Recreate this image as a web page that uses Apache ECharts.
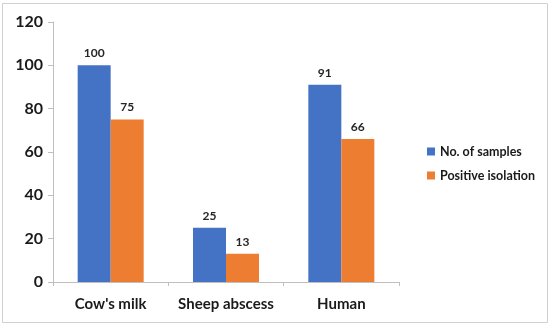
<!DOCTYPE html>
<html>
<head>
<meta charset="utf-8">
<script src="https://cdn.jsdelivr.net/npm/echarts@6/dist/echarts.min.js"></script>
<style>html,body{margin:0;padding:0;background:#fff;}#c{width:550px;height:326px;}</style>
</head>
<body>
<div id="c"></div>
<script>
var categories = ["Cow's milk", "Sheep abscess", "Human"];
var samples = [100, 25, 91];
var positive = [75, 13, 66];
var seriesNames = ["No. of samples", "Positive isolation"];
var yMin = 0, yMax = 120, yStep = 20;

var chart = echarts.init(document.getElementById('c'), null, {renderer: 'canvas'});
var font = 'Lato, "Open Sans", sans-serif';
var labelStyle = {show: true, position: 'top', distance: 6, color: '#262626', fontWeight: 'bold', fontSize: 12, fontFamily: font};
chart.setOption({
  animation: false,
  backgroundColor: '#fff',
  graphic: [{type: 'rect', shape: {x: 2.5, y: 3.5, width: 545, height: 319}, style: {fill: 'none', stroke: '#d0d0d0', lineWidth: 1}, silent: true}],
  grid: {left: 53, right: 151, top: 22, bottom: 44},
  legend: {
    orient: 'vertical', left: 422, top: 140, itemWidth: 8, itemHeight: 8, itemGap: 11,
    icon: 'rect',
    textStyle: {fontFamily: font, fontWeight: 'bold', fontSize: 12.5, color: '#1a1a1a'},
    data: seriesNames
  },
  xAxis: {
    type: 'category', data: categories,
    axisLine: {lineStyle: {color: '#bfbfbf'}},
    axisTick: {show: true, length: 4, lineStyle: {color: '#bfbfbf'}},
    axisLabel: {interval: 0, color: '#1a1a1a', fontWeight: 'bold', fontSize: 15, fontFamily: font, margin: 15}
  },
  yAxis: {
    type: 'value', min: yMin, max: yMax, interval: yStep,
    axisLine: {show: true, lineStyle: {color: '#bfbfbf'}},
    axisTick: {show: true, length: 5, lineStyle: {color: '#bfbfbf'}},
    splitLine: {show: false},
    axisLabel: {color: '#1a1a1a', fontWeight: 'bold', fontSize: 16, fontFamily: font, margin: 10}
  },
  series: [
    {name: seriesNames[0], type: 'bar', data: samples, barWidth: 33, barGap: '0%', itemStyle: {color: '#4472C4'}, label: labelStyle},
    {name: seriesNames[1], type: 'bar', data: positive, barWidth: 33, barGap: '0%', itemStyle: {color: '#ED7D31'}, label: labelStyle}
  ]
});
</script>
</body>
</html>
